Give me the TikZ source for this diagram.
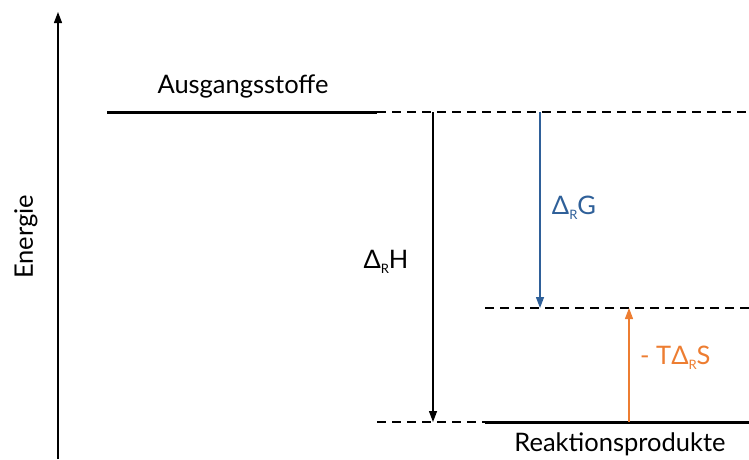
\documentclass[tikz,border=0pt]{standalone}
\usepackage{fontspec}
\setmainfont{Lato}
\usetikzlibrary{arrows.meta}
\definecolor{gblue}{HTML}{2F6099}
\definecolor{sorange}{HTML}{ED7D31}
\tikzset{
  lbl/.style={font=\fontsize{25.5}{28}\selectfont, inner sep=0pt},
  thinarrow/.style={line width=1.3pt, -{Triangle[length=11pt,width=8pt]}},
  level/.style={line width=3pt},
  dashlevel/.style={line width=1.3pt, dash pattern=on 9pt off 6pt},
}
\newcommand{\subR}{\raisebox{-0.35ex}{\fontsize{13}{14}\selectfont R}}
\begin{document}
\begin{tikzpicture}[x=1pt,y=-1pt]
\useasboundingbox (0,0) rectangle (749,459);
% axis
\coordinate (ax0) at (58,459);
\coordinate (ax1) at (58,12);
\draw[thinarrow] (ax0) -- (ax1);
\node[lbl, rotate=90] (energie) at (26,237) {Energie};
% levels
\coordinate (a1) at (107,112);
\coordinate (a2) at (377,112);
\coordinate (a3) at (749,112);
\draw[level] (a1) -- (a2);
\draw[dashlevel] (a2) -- (a3);
\node[lbl] (ausg) at (243,86) {Ausgangsstoffe};
\coordinate (m1) at (485,308);
\coordinate (m2) at (749,308);
\draw[dashlevel] (m1) -- (m2);
\coordinate (b1) at (377,422);
\coordinate (b2) at (485,422);
\coordinate (b3) at (749,422);
\draw[dashlevel] (b1) -- (b2);
\draw[level] (b2) -- (b3);
\node[lbl] (reak) at (620,444) {Reaktionsprodukte};
% arrows
\coordinate (h1) at (433,112);
\coordinate (h2) at (433,422);
\draw[thinarrow] (h1) -- (h2);
\node[lbl] (dh) at (386,262) {Δ\subR H};
\coordinate (g1) at (540,112);
\coordinate (g2) at (540,308);
\draw[thinarrow, gblue] (g1) -- (g2);
\node[lbl, text=gblue] (dg) at (574,208) {Δ\subR G};
\coordinate (s1) at (629,422);
\coordinate (s2) at (629,308);
\draw[thinarrow, sorange] (s1) -- (s2);
\node[lbl, text=sorange, anchor=west] (ds) at (640,358) {- TΔ\subR S};
\end{tikzpicture}
\end{document}
